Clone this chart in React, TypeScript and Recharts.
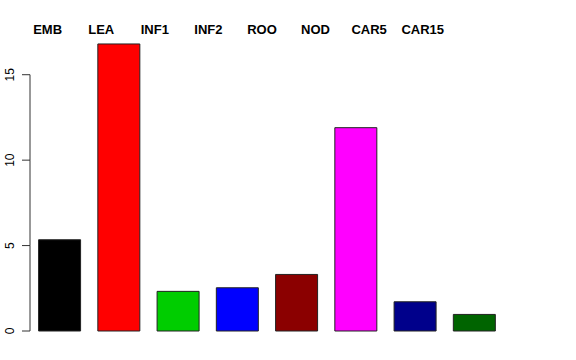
import { BarChart, Bar, XAxis, YAxis, Cell } from 'recharts'

const categories = ['EMB', 'LEA', 'INF1', 'INF2', 'ROO', 'NOD', 'CAR5', 'CAR15']
const values = [5.34, 16.8, 2.32, 2.53, 3.31, 11.9, 1.71, 0.97]
const colors = ['#000000', '#FF0000', '#00CD00', '#0000FF', '#8B0000', '#FF00FF', '#00008B', '#006400']
const yTicks = [0, 5, 10, 15]
const labelPos = [1, 2, 3, 4, 5, 6, 7, 8]

const data = categories.map((c, i) => ({ name: c, value: values[i], pos: labelPos[i] }))

const Y_MAX = 17.5
const PLOT_H = 299
const TICK_GAP = (5 * PLOT_H) / Y_MAX

// R-style axis: line only spans the tick range, labels rotated
const YTick = (props: any) => {
  const { x, y, payload } = props
  const ax = x + 8
  return (
    <g>
      <line x1={ax - 8} x2={ax} y1={y} y2={y} stroke="#333" />
      {payload.value > 0 && (
        <line x1={ax} x2={ax} y1={y} y2={y + TICK_GAP} stroke="#333" />
      )}
      <text
        x={10}
        y={y}
        transform={`rotate(-90, 10, ${y})`}
        textAnchor="middle"
        dominantBaseline="central"
        fontSize={12}
        fill="#000"
        fontFamily="Liberation Sans, Arial, sans-serif"
      >
        {payload.value}
      </text>
    </g>
  )
}

const TopLabel = (props: any) => {
  const { x, payload } = props
  return (
    <text
      x={x}
      y={29}
      textAnchor="middle"
      dominantBaseline="central"
      fontSize={13}
      fontWeight="bold"
      fill="#000"
      fontFamily="Liberation Sans, Arial, sans-serif"
    >
      {categories[payload.value - 1]}
    </text>
  )
}

export default function App() {
  return (
    <div style={{ position: 'absolute', left: 0, top: 0, width: 576, height: 360, background: '#fff' }}>
      <BarChart
        width={576}
        height={360}
        data={data}
        margin={{ top: 0, right: 72, bottom: 29, left: 1 }}
        barCategoryGap="14.5%"
      >
        <XAxis dataKey="name" hide />
        <XAxis
          xAxisId="lbl"
          dataKey="pos"
          orientation="top"
          type="number"
          domain={[0.671, 9.517]}
          allowDataOverflow
          ticks={labelPos}
          interval={0}
          height={32}
          axisLine={false}
          tickLine={false}
          tick={<TopLabel />}
        />
        <YAxis
          domain={[0, Y_MAX]}
          ticks={yTicks}
          width={29}
          axisLine={false}
          tickLine={false}
          tick={<YTick />}
        />
        <Bar dataKey="value" stroke="#222" strokeWidth={1} isAnimationActive={false}>
          {data.map((d, i) => (
            <Cell key={d.name} fill={colors[i]} />
          ))}
        </Bar>
      </BarChart>
    </div>
  )
}
